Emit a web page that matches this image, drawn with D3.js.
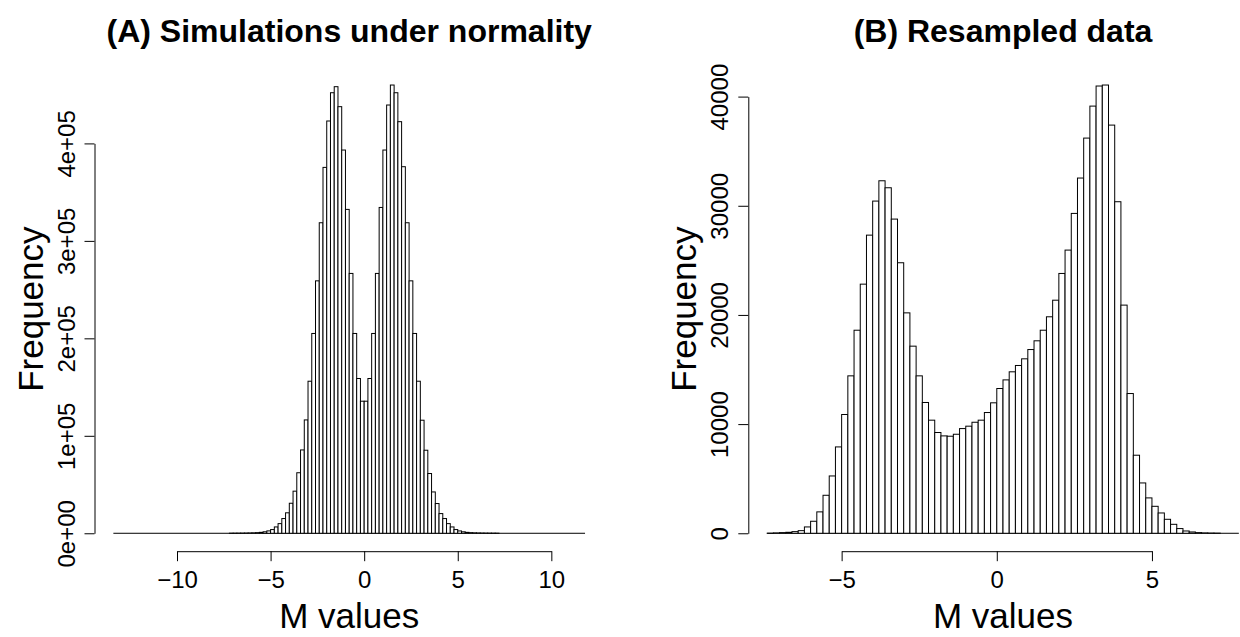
<!DOCTYPE html>
<html>
<head>
<meta charset="utf-8">
<script src="https://cdnjs.cloudflare.com/ajax/libs/d3/7.8.5/d3.min.js"></script>
<style>
  html, body { margin: 0; padding: 0; background: #ffffff; }
  svg { display: block; }
  text { font-family: "Liberation Sans", Arial, Helvetica, sans-serif; fill: #000; }
</style>
</head>
<body>
<svg id="chart" width="1240" height="637"></svg>
<script>
// ---------------- DATA ----------------
// Panel A: histogram of simulated M values (bin width 0.2, first break -13.4)
const firstBreakA = -13.4;
const binWidthA = 0.2;
const countsA = [
  1, 0, 0, 0, 0, 1, 0, 0, 1, 0,
  1, 1, 1, 1, 1, 2, 2, 2, 3, 3,
  4, 5, 6, 8, 10, 13, 16, 21, 27, 35,
  45, 60, 80, 107, 148, 205, 295, 425, 630, 960,
  1520, 2450,
  3800, 6500, 9900, 15100, 21000, 30800, 43200, 62100, 85500, 116300,
  156000, 205000, 259000, 318600, 375400, 423000, 452000, 458200, 437700, 393200,
  332300, 266600, 205000, 158800, 135500,
  135500, 158800, 205000, 266600, 334300, 393200, 439400, 459900, 452000, 422300,
  376100, 318600, 259000, 205000, 156000, 116000, 85200, 61300, 42400, 30500,
  20200, 15100, 9900, 6500, 3800,
  2400, 1500, 950, 620, 420, 290, 200, 145, 105, 78,
  58, 44, 34, 26, 20, 16, 12, 10, 8, 6,
  5, 4, 3, 3, 2, 2, 2, 1, 1, 1,
  1, 0, 0, 1
];
const xTicksA = [-10, -5, 0, 5, 10];
const yTicksA = [0, 100000, 200000, 300000, 400000];
const yTickLabelsA = ["0e+00", "1e+05", "2e+05", "3e+05", "4e+05"];

// Panel B: histogram of resampled M values (bin width 0.2, first break -7.4)
const firstBreakB = -7.4;
const binWidthB = 0.2;
const countsB = [
  5, 30, 60, 90, 150, 240, 580, 1100, 1960, 3480,
  5250, 7910, 10880, 14420, 18600, 22820, 27310, 30430, 32290, 31650,
  28780, 24780, 20190, 17140, 14420, 11980, 10360, 9230, 8920, 8890,
  9070, 9590, 9810, 10170, 10360, 11060, 11950,
  13260, 14050, 14790, 15370, 15980, 16830, 17630, 18600, 19830, 21350,
  23800, 25940, 29300, 32540, 36200, 39130, 40970, 41060, 37390, 30370,
  20900, 12800, 7150, 4610, 3240, 2470, 1860, 1280, 820, 430,
  210, 120, 60, 30, 15, 8, 4, 2, 1
];
const xTicksB = [-5, 0, 5];
const yTicksB = [0, 10000, 20000, 30000, 40000];
const yTickLabelsB = ["0", "10000", "20000", "30000", "40000"];

const titles = ["(A) Simulations under normality", "(B) Resampled data"];
const xLabel = "M values";
const yLabel = "Frequency";

// ---------------- LAYOUT ----------------
const svg = d3.select("#chart");
svg.append("rect").attr("width", 1240).attr("height", 637).attr("fill", "#fff");

const panels = [
  { left: 94.5, width: 509.4, first: firstBreakA, bw: binWidthA, counts: countsA,
    xTicks: xTicksA, yTicks: yTicksA, yLabels: yTickLabelsA, title: titles[0] },
  { left: 748.3, width: 509.4, first: firstBreakB, bw: binWidthB, counts: countsB,
    xTicks: xTicksB, yTicks: yTicksB, yLabels: yTickLabelsB, title: titles[1] }
];
const plotTop = 67.1, plotBottom = 551.2;

panels.forEach(p => {
  const bins = p.counts.map((c, i) => ({
    x0: p.first + i * p.bw,
    x1: p.first + (i + 1) * p.bw,
    n: c
  }));
  const lo = bins[0].x0, hi = bins[bins.length - 1].x1;
  const padX = 0.04 * (hi - lo);
  const ymax = d3.max(p.counts);
  const x = d3.scaleLinear().domain([lo - padX, hi + padX]).range([p.left, p.left + p.width]);
  const y = d3.scaleLinear().domain([-0.04 * ymax, 1.04 * ymax]).range([plotBottom, plotTop]);

  const g = svg.append("g");

  // baseline for zero-height bins
  g.append("line")
    .attr("x1", x(lo)).attr("x2", x(hi))
    .attr("y1", y(0)).attr("y2", y(0))
    .attr("stroke", "#000").attr("stroke-width", 1);

  // bars
  g.selectAll("rect.bar").data(bins.filter(d => y(0) - y(d.n) >= 0.05))
    .enter().append("rect")
    .attr("class", "bar")
    .attr("x", d => x(d.x0))
    .attr("width", d => x(d.x1) - x(d.x0))
    .attr("y", d => y(d.n))
    .attr("height", d => y(0) - y(d.n))
    .attr("fill", "#fff")
    .attr("stroke", "#000")
    .attr("stroke-width", 1);

  // x axis (line spans first to last tick, as in R)
  const xa = x.copy()
    .domain([p.xTicks[0], p.xTicks[p.xTicks.length - 1]])
    .range([x(p.xTicks[0]), x(p.xTicks[p.xTicks.length - 1])]);
  const gx = g.append("g")
    .attr("transform", `translate(0,${plotBottom})`)
    .call(d3.axisBottom(xa).tickValues(p.xTicks).tickSizeOuter(0).tickSizeInner(10)
      .tickFormat(d => d < 0 ? "\u2212" + Math.abs(d) : String(d)));
  gx.selectAll("path, line").attr("stroke", "#000").attr("stroke-width", 1);
  gx.selectAll("text")
    .attr("y", 0).attr("dy", 0)
    .attr("transform", "translate(0,37)")
    .style("font-size", "24px")
    .style("font-family", '"Liberation Sans", Arial, sans-serif')
    .attr("fill", "#000");

  // y axis
  const ya = y.copy()
    .domain([p.yTicks[0], p.yTicks[p.yTicks.length - 1]])
    .range([y(p.yTicks[0]), y(p.yTicks[p.yTicks.length - 1])]);
  const gy = g.append("g")
    .attr("transform", `translate(${p.left},0)`)
    .call(d3.axisLeft(ya).tickValues(p.yTicks).tickSizeOuter(0).tickSizeInner(10)
      .tickFormat((d, i) => p.yLabels[i]));
  gy.selectAll("path, line").attr("stroke", "#000").attr("stroke-width", 1);
  gy.selectAll("text")
    .attr("x", 0).attr("dy", 0)
    .attr("text-anchor", "middle")
    .attr("transform", "translate(-20,0) rotate(-90)")
    .style("font-size", "24px")
    .style("font-family", '"Liberation Sans", Arial, sans-serif')
    .attr("fill", "#000");

  // axis titles
  const cx = p.left + p.width / 2;
  const cy = (plotTop + plotBottom) / 2;
  g.append("text")
    .attr("x", cx).attr("y", 628)
    .attr("text-anchor", "middle")
    .style("font-size", "35px")
    .text(xLabel);
  g.append("text")
    .attr("transform", `translate(${p.left - 52},${cy}) rotate(-90)`)
    .attr("text-anchor", "middle")
    .style("font-size", "35px")
    .text(yLabel);

  // main title
  g.append("text")
    .attr("x", cx).attr("y", 42)
    .attr("text-anchor", "middle")
    .style("font-size", "32px")
    .style("font-weight", "bold")
    .text(p.title);
});
</script>
</body>
</html>
